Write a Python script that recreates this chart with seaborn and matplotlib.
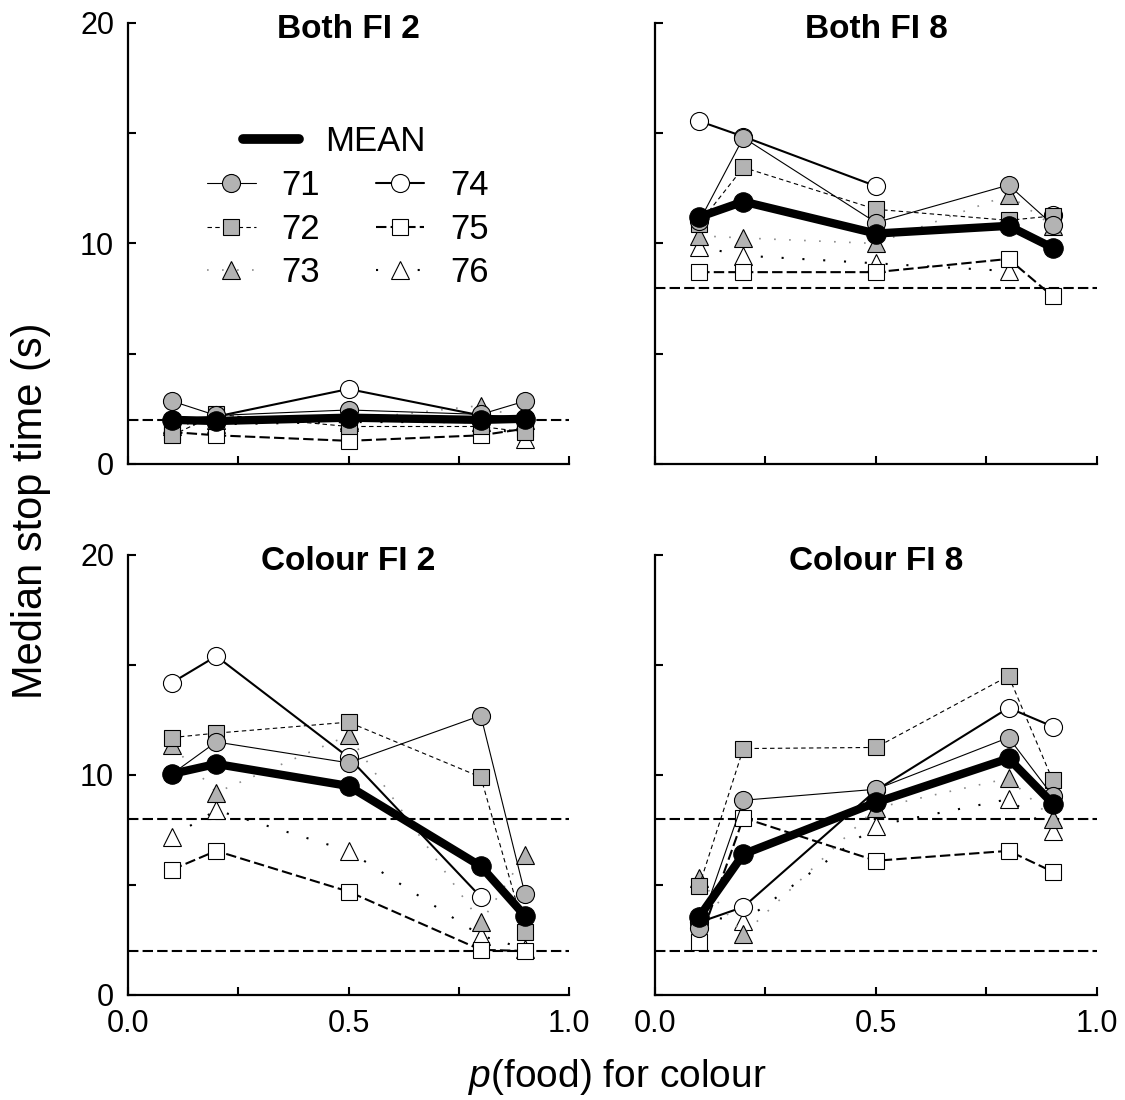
import numpy as np
import pandas as pd
import seaborn as sns
import matplotlib.pyplot as plt
from matplotlib.lines import Line2D
from matplotlib.ticker import MultipleLocator, FormatStrFormatter

# --- 1. DATA ---
p_food = [0.1, 0.2, 0.5, 0.8, 0.9]
subjects = ['71', '72', '73', '74', '75', '76']
panel_titles = ['Both FI 2', 'Both FI 8', 'Colour FI 2', 'Colour FI 8']
nan = np.nan

both_fi2 = {
    'MEAN': [2.0, 1.95, 2.1, 2.0, 2.05],
    '71': [2.85, 2.2, 2.45, 2.25, 2.85],
    '72': [1.3, 2.25, 1.7, 1.7, 1.45],
    '73': [1.7, 2.0, 2.0, 2.65, 2.0],
    '74': [2.0, 2.15, 3.4, 2.2, 2.1],
    '75': [1.45, 1.3, 1.05, 1.3, 1.6],
    '76': [1.8, 1.8, 1.9, 1.9, 1.15],
}
both_fi8 = {
    'MEAN': [11.2, 11.9, 10.45, 10.8, 9.8],
    '71': [11.0, 14.8, 10.95, 12.65, 10.85],
    '72': [10.9, 13.45, 11.55, 11.05, 11.25],
    '73': [10.35, 10.25, 10.0, 12.2, 10.8],
    '74': [15.55, 14.85, 12.6, nan, 11.3],
    '75': [8.7, 8.7, 8.7, 9.3, 7.6],
    '76': [9.85, 9.45, 9.1, 8.75, nan],
}
colour_fi2 = {
    'MEAN': [10.05, 10.5, 9.5, 5.85, 3.6],
    '71': [10.05, 11.5, 10.55, 12.7, 4.6],
    '72': [11.7, 11.9, 12.4, 9.9, 2.85],
    '73': [11.35, 9.2, 11.8, 3.3, 6.35],
    '74': [14.2, 15.4, 10.8, 4.45, nan],
    '75': [5.7, 6.55, 4.7, 2.05, 2.0],
    '76': [7.2, 8.4, 6.55, 2.7, 2.1],
}
colour_fi8 = {
    'MEAN': [3.55, 6.4, 8.75, 10.75, 8.7],
    '71': [3.05, 8.85, 9.35, 11.7, 9.05],
    '72': [4.95, 11.2, 11.25, 14.5, 9.75],
    '73': [5.3, 2.75, 8.5, 9.85, 8.0],
    '74': [3.3, 4.0, 9.3, 13.05, 12.2],
    '75': [2.4, 8.05, 6.1, 6.55, 5.6],
    '76': [3.6, 3.35, 7.7, 8.9, 7.45],
}
panel_data = [both_fi2, both_fi8, colour_fi2, colour_fi8]

# FI values marked with dashed reference lines in each panel
ref_lines = [[2], [8], [8, 2], [8, 2]]

# --- 2. STYLES ---
sns.set_style('ticks')
plt.rcParams['font.family'] = ['Liberation Sans', 'DejaVu Sans']
plt.rcParams['mathtext.fontset'] = 'custom'
plt.rcParams['mathtext.it'] = 'Liberation Sans:italic'
plt.rcParams['mathtext.rm'] = 'Liberation Sans'
for key in ['text.color', 'axes.labelcolor', 'axes.edgecolor',
            'xtick.color', 'ytick.color']:
    plt.rcParams[key] = 'black'

gray = '#b3b3b3'
base = dict(color='black', markeredgecolor='black', markeredgewidth=0.8)
styles = {
    '71': dict(base, marker='o', markersize=13, markerfacecolor=gray,
               linestyle='-', linewidth=0.8),
    '72': dict(base, marker='s', markersize=12, markerfacecolor=gray,
               linestyle=(0, (4, 3)), linewidth=0.8),
    '73': dict(base, marker='^', markersize=12.5, markerfacecolor=gray,
               linestyle=(0, (1, 8)), linewidth=1.2),
    '74': dict(base, marker='o', markersize=13, markerfacecolor='white',
               linestyle='-', linewidth=1.5),
    '75': dict(base, marker='s', markersize=12, markerfacecolor='white',
               linestyle=(0, (5, 2)), linewidth=1.5),
    '76': dict(base, marker='^', markersize=12.5, markerfacecolor='white',
               linestyle=(0, (1, 9)), linewidth=1.5),
}
styles['73']['color'] = '#8c8c8c'
mean_style = dict(color='black', marker='o', markersize=14, markerfacecolor='black',
                  markeredgecolor='black', markeredgewidth=0.8, linewidth=6)


def draw_series(ax, values, style, z):
    df = pd.DataFrame({'p': p_food, 'time': values})
    # missing points break the line
    df['seg'] = df['time'].isna().cumsum()
    df = df.dropna()
    for _, seg in df.groupby('seg'):
        sns.lineplot(data=seg, x='p', y='time', ax=ax, legend=False,
                     zorder=z, **style)


# --- 3. FIGURE ---
fig = plt.figure(figsize=(11.25, 11), dpi=100)
boxes = [
    [0.1138, 0.5782, 0.392, 0.4009],
    [0.5822, 0.5782, 0.3929, 0.4009],
    [0.1138, 0.0955, 0.392, 0.4],
    [0.5822, 0.0955, 0.3929, 0.4],
]

axes = []
for i, (box, title, data) in enumerate(zip(boxes, panel_titles, panel_data)):
    ax = fig.add_axes(box)
    axes.append(ax)

    for y in ref_lines[i]:
        ax.axhline(y, color='black', linewidth=1.5, linestyle=(0, (5, 2)), zorder=1)

    # subject 71 ends up on top, 76 at the bottom
    for k, s in enumerate(subjects):
        draw_series(ax, data[s], styles[s], 3.6 - k * 0.1)
    draw_series(ax, data['MEAN'], mean_style, 5)

    ax.set_xlim(0, 1)
    ax.set_ylim(0, 20)
    ax.set_xlabel('')
    ax.set_ylabel('')
    sns.despine(ax=ax)
    for sp in ['left', 'bottom']:
        ax.spines[sp].set_linewidth(1.6)

    ax.xaxis.set_major_locator(MultipleLocator(0.5))
    ax.xaxis.set_minor_locator(MultipleLocator(0.25))
    ax.xaxis.set_major_formatter(FormatStrFormatter('%.1f'))
    ax.yaxis.set_major_locator(MultipleLocator(10))
    ax.yaxis.set_minor_locator(MultipleLocator(5))
    ax.tick_params(which='both', direction='in', length=6, width=1.5, pad=10,
                   labelsize=22)

    if i % 2 == 1:
        ax.tick_params(axis='y', which='both', labelleft=False)
    if i < 2:
        ax.tick_params(axis='x', which='both', labelbottom=False)

    ax.text(0.5, 0.985, title, transform=ax.transAxes, ha='center', va='center',
            fontsize=24, fontweight='bold', zorder=10)

# --- 4. LEGEND (top-left panel) ---
ax0 = axes[0]
mean_handle = [Line2D([], [], color='black', linewidth=7)]
leg1 = ax0.legend(mean_handle, ['MEAN'], loc='upper left',
                  bbox_to_anchor=(0.261, 0.768), frameon=False, fontsize=25,
                  handlelength=1.6, handletextpad=0.75, borderpad=0,
                  borderaxespad=0)
ax0.add_artist(leg1)

subj_handles = [Line2D([], [], **styles[s]) for s in subjects]
ax0.legend(subj_handles, subjects, ncol=2, loc='upper left',
           bbox_to_anchor=(0.179, 0.668), frameon=False, fontsize=25,
           handlelength=1.4, handletextpad=0.75, columnspacing=1.6,
           labelspacing=0.3, borderpad=0, borderaxespad=0)

# --- 5. SHARED AXIS LABELS ---
fig.text(0.028, 0.536, 'Median stop time (s)', rotation=90, ha='center',
         va='center', fontsize=30)
fig.text(0.549, 0.021, '$\\it{p}$(food) for colour', ha='center', va='center',
         fontsize=28)

fig.savefig('out.png', dpi=100)
